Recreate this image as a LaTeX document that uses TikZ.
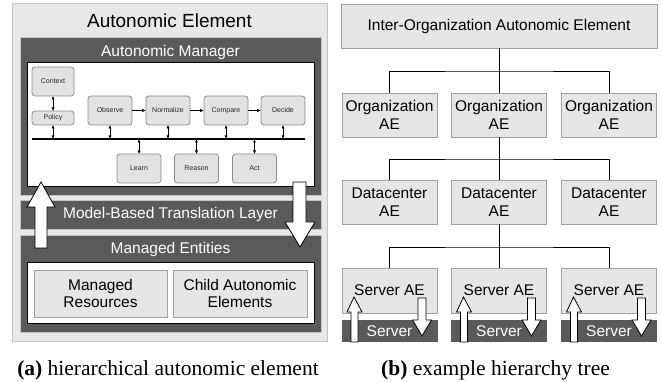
\documentclass[tikz,border=0pt]{standalone}
\usepackage{fontspec}
\setmainfont{Liberation Sans}
\newfontfamily\capfont{Liberation Serif}
\usetikzlibrary{arrows.meta}
\definecolor{outerbg}{HTML}{E8E8E8}
\definecolor{outerbd}{HTML}{C4C4C4}
\definecolor{darkbg}{HTML}{5A5A5A}
\definecolor{nodebg}{HTML}{E2E2E2}
\definecolor{nodebd}{HTML}{8C8C8C}
\definecolor{treebg}{HTML}{E6E6E6}
\definecolor{treebd}{HTML}{A0A0A0}
\tikzset{
  plain/.style={inner sep=0pt,outer sep=0pt},
  outerbox/.style={plain,fill=outerbg,draw=outerbd,line width=1pt},
  darkbox/.style={plain,fill=darkbg,draw=outerbd,line width=0.8pt},
  whitebox/.style={plain,fill=white,draw=black,line width=1pt},
  bigtxt/.style={font=\fontsize{15.5}{17.5}\selectfont,align=center},
  titletxt/.style={font=\fontsize{19}{22}\selectfont},
  lighttxt/.style={bigtxt,text=white},
  mgrnode/.style={plain,rounded corners=3pt,fill=nodebg,draw=nodebd,line width=0.8pt,
    minimum width=44pt,minimum height=29pt,font=\fontsize{7}{8}\selectfont,text=black!85},
  treebox/.style={plain,fill=treebg,draw=treebd,line width=0.8pt,bigtxt,
    minimum width=95pt,minimum height=44pt},
  serverband/.style={plain,fill=darkbg,minimum width=96pt,minimum height=22pt,lighttxt},
  biarrow/.style={{Latex[length=3.5pt,width=3.2pt]}-{Latex[length=3.5pt,width=3.2pt]},line width=0.9pt},
  onearrow/.style={-{Latex[length=4pt,width=3.5pt]},line width=1pt},
  treeline/.style={line width=0.9pt},
  blockarrow/.style={fill=white,draw=black,line width=0.8pt,line join=miter},
  captxt/.style={font=\capfont\fontsize{21.5}{24}\selectfont,anchor=base}
}
\begin{document}
\begin{tikzpicture}[x=1pt,y=-1pt]
\useasboundingbox (0,0) rectangle (662,382);
\fill[white] (0,0) rectangle (662,382);

% ---------------- (a) autonomic element ----------------
\node[outerbox,minimum width=315pt,minimum height=338pt] (ae) at (169.5,173) {};
\node[titletxt] (aetitle) at (169.5,21) {Autonomic Element};
\node[darkbox,minimum width=301pt,minimum height=158pt] (mgr) at (170.5,116) {};
\node[lighttxt] (mgrtitle) at (170.5,52) {Autonomic Manager};
\node[whitebox,minimum width=287pt,minimum height=124pt] (mgrin) at (170.5,125) {};
\node[darkbox,minimum width=301pt,minimum height=29pt] (model) at (170.5,214.5) {};
\node[lighttxt] (modeltxt) at (170.5,214.5) {Model-Based Translation Layer};
\node[darkbox,minimum width=301pt,minimum height=97pt] (ent) at (170.5,283.5) {};
\node[lighttxt] (enttxt) at (170.5,249) {Managed Entities};
\node[whitebox,minimum width=287pt,minimum height=61pt] (entin) at (170.5,293.5) {};
\node[treebox,minimum width=133pt,minimum height=47pt] (mres) at (100.5,293.5) {Managed\\Resources};
\node[treebox,minimum width=134pt,minimum height=47pt] (cae) at (240,293.5) {Child Autonomic\\Elements};

% manager internals
\node[mgrnode,minimum width=42pt] (context) at (53,81.5) {Context};
\node[mgrnode,minimum width=42pt,minimum height=14pt] (policy) at (53,118) {Policy};
\node[mgrnode] (observe) at (110,110.5) {Observe};
\node[mgrnode] (normalize) at (168,110.5) {Normalize};
\node[mgrnode] (compare) at (226,110.5) {Compare};
\node[mgrnode] (decide) at (283,110.5) {Decide};
\node[mgrnode] (learn) at (139,168.5) {Learn};
\node[mgrnode] (reason) at (196.5,168.5) {Reason};
\node[mgrnode] (act) at (254.5,168.5) {Act};
\coordinate (busL) at (32,139);
\coordinate (busR) at (305,139);
\draw[line width=1.3pt] (busL) -- (busR);
\draw[biarrow] (context.south) -- (policy.north);
\foreach \n in {policy,observe,normalize,compare,decide}
  \draw[biarrow] (\n.south) -- (\n.south |- busL);
\foreach \n in {learn,reason,act}
  \draw[biarrow] (\n.north |- busL) -- (\n.north);
\draw[onearrow] (observe) -- (normalize);
\draw[onearrow] (normalize) -- (compare);
\draw[onearrow] (compare) -- (decide);

% block arrows
\draw[blockarrow] (41,182) -- (55,207) -- (47,207) -- (47,248) -- (35,248) -- (35,207) -- (27,207) -- cycle;
\draw[blockarrow] (293,182) -- (306,182) -- (306,222) -- (315,222) -- (300,247) -- (285,222) -- (293,222) -- cycle;

\node[captxt] (capa) at (168,375) {\textbf{(a)} hierarchical autonomic element};

% ---------------- (b) hierarchy tree ----------------
\node[treebox,minimum width=316pt] (top) at (499,26) {Inter-Organization Autonomic Element};
\node[treebox] (orgL) at (389.5,115) {Organization\\AE};
\node[treebox] (orgM) at (499,115) {Organization\\AE};
\node[treebox] (orgR) at (609,115) {Organization\\AE};
\node[treebox] (dcL) at (389.5,202) {Datacenter\\AE};
\node[treebox] (dcM) at (499,202) {Datacenter\\AE};
\node[treebox] (dcR) at (609,202) {Datacenter\\AE};
\node[treebox,minimum height=45pt] (saL) at (389.5,290.5) {Server AE};
\node[treebox,minimum height=45pt] (saM) at (499,290.5) {Server AE};
\node[treebox,minimum height=45pt] (saR) at (609,290.5) {Server AE};
\node[serverband] (svL) at (389.5,331) {Server};
\node[serverband] (svM) at (499,331) {Server};
\node[serverband] (svR) at (609,331) {Server};

\coordinate (j1) at (499,71);
\coordinate (j2) at (499,159);
\coordinate (j3) at (499,247);
\draw[treeline] (top.south) -- (orgM.north);
\draw[treeline] (orgL.north) |- (j1) -| (orgR.north);
\draw[treeline] (orgM.south) -- (dcM.north);
\draw[treeline] (dcL.north) |- (j2) -| (dcR.north);
\draw[treeline] (dcM.south) -- (saM.north);
\draw[treeline] (saL.north) |- (j3) -| (saR.north);

\foreach \cx in {389.5,499,609} {
  \draw[blockarrow] (\cx-35.5,297) -- (\cx-27.5,312) -- (\cx-31.5,312) -- (\cx-31.5,342)
     -- (\cx-38.5,342) -- (\cx-38.5,312) -- (\cx-42.5,312) -- cycle;
  \draw[blockarrow] (\cx+28.5,298) -- (\cx+36.5,298) -- (\cx+36.5,320) -- (\cx+42,320)
     -- (\cx+32.5,336) -- (\cx+23,320) -- (\cx+28.5,320) -- cycle;
}

\node[captxt] (capb) at (495.5,375) {\textbf{(b)} example hierarchy tree};
\end{tikzpicture}
\end{document}
